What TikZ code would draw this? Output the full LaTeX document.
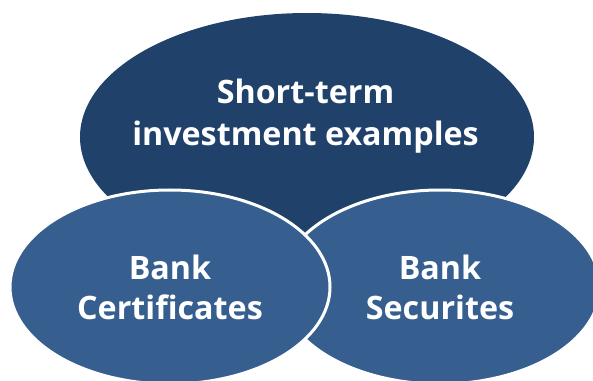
\documentclass[tikz,border=0pt]{standalone}
\usepackage{fontspec}
\setmainfont{Open Sans}
\usetikzlibrary{shapes.geometric}

\definecolor{topblue}{rgb}{0.122,0.255,0.416}
\definecolor{lowblue}{rgb}{0.212,0.373,0.561}

\tikzset{every picture/.style={line width=0.75pt}}
\tikzset{
  bigoval/.style={ellipse, fill=topblue, inner sep=0pt, minimum width=340.5pt, minimum height=186pt},
  smalloval/.style={ellipse, fill=lowblue, draw=white, line width=2.25pt, inner sep=0pt,
    minimum width=240pt, minimum height=145.5pt, align=center, text=white,
    font=\bfseries\fontsize{24.2}{30}\selectfont},
  ovaltext/.style={align=center, text=white, inner sep=0pt, font=\bfseries\fontsize{24.2}{31.3}\selectfont}
}

\begin{document}
\begin{tikzpicture}[x=0.75pt,y=0.75pt,yscale=-1,xscale=1]
\clip (0,0) rectangle (593,381);

% Ellipses
\node [bigoval] (top) at (307,137) {};
\node [smalloval] (right) at (440,287) {Bank\\Securites};
\node [smalloval] (left) at (170,287) {Bank\\Certificates};

% Text Node
\node [ovaltext] (toptext) at (305.5,116) {Short-term\\investment examples};

\end{tikzpicture}
\end{document}
